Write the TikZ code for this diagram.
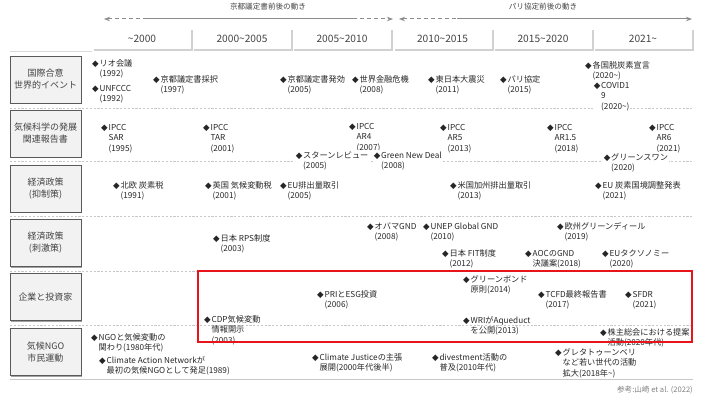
\documentclass[tikz,border=0pt]{standalone}
\usepackage{fontspec}
\setmainfont{Noto Sans CJK JP}
\newfontfamily\dejavu{DejaVu Sans}
\usetikzlibrary{arrows.meta,shadows}
\definecolor{txt}{HTML}{262626}
\definecolor{hdr}{HTML}{444444}
\definecolor{divc}{HTML}{C8C8C8}
\definecolor{arrc}{HTML}{8C8C8C}
\definecolor{lblfill}{HTML}{F2F2F2}
\definecolor{lbldraw}{HTML}{5A5A5A}
\definecolor{redbox}{HTML}{E8141B}
\newcommand\tld{\textasciitilde}
\newcommand\ev[1]{{\dejavu\fontsize{8.6}{9}\selectfont ◆}\hspace{0.8pt}\begin{tabular}[t]{@{}l@{}}#1\end{tabular}}
\begin{document}
\begin{tikzpicture}[x=1pt,y=-1pt,
  evt/.style={anchor=base west, inner sep=0pt, text=txt,
    font=\fontsize{8.2}{10.6}\selectfont},
  evw/.style={evt, fill=white, inner sep=0.6pt},
  lbl/.style={draw=lbldraw, fill=lblfill, line width=0.8pt, text=hdr,
    minimum width=71pt, minimum height=47pt, align=center, inner sep=1pt,
    font=\fontsize{9}{12}\selectfont,
    drop shadow={shadow xshift=1.3pt, shadow yshift=-1.3pt, fill=black!45, opacity=0.8}},
  hcell/.style={fill=white, draw=none, minimum width=98pt, minimum height=21pt,
    inner sep=0pt, text=hdr, font=\fontsize{10.2}{12}\selectfont},
  toplbl/.style={text=hdr, inner sep=0pt, font=\fontsize{7.6}{9}\selectfont},
  divl/.style={draw=divc, line width=0.8pt, dash pattern=on 2.2pt off 1.6pt},
  arrl/.style={draw=arrc, line width=1pt},
  arrd/.style={draw=arrc, line width=1pt, dash pattern=on 4pt off 3pt},
]
\useasboundingbox (0,0) rectangle (705,396);

% ---- top arrows ----
\node[toplbl] (kyoto) at (268,7) {京都議定書前後の動き};
\node[toplbl] (paris) at (543,7) {パリ協定前後の動き};
\coordinate (k1) at (104,19);
\coordinate (k2) at (147,19);
\coordinate (k3) at (353,19);
\coordinate (k4) at (393,19);
\coordinate (p1) at (399,19);
\coordinate (p2) at (457,19);
\coordinate (p3) at (692,19);
\draw[arrd, {Stealth[length=6pt,width=4.5pt]}-] (k1) -- (k2);
\draw[arrl] (k2) -- (k3);
\draw[arrd, -{Stealth[length=6pt,width=4.5pt]}] (k3) -- (k4);
\draw[arrd, {Stealth[length=6pt,width=4.5pt]}-] (p1) -- (p2);
\draw[arrl, -{Stealth[length=6pt,width=4.5pt]}] (p2) -- (p3);

% ---- header cells ----
\foreach \i/\x/\t in {0/142/{\tld2000},1/242/{2000\tld2005},2/342/{2005\tld2010},
                      3/442.5/{2010\tld2015},4/543/{2015\tld2020},5/643/{2021\tld}}{
  \fill[black!18] (\x-48,30.5) rectangle (\x+51,51);
  \node[hcell] (h\i) at (\x,39) {\t};
}
\draw[black!15, line width=0.8pt] (10,51.5) -- (92,51.5);

% ---- row dividers ----
\coordinate (dl1) at (10,108); \coordinate (dr1) at (693,108);
\coordinate (dl2) at (10,161); \coordinate (dr2) at (693,161);
\coordinate (dl3) at (10,216); \coordinate (dr3) at (693,216);
\coordinate (dl4) at (10,271); \coordinate (dr4) at (693,271);
\coordinate (dl5) at (10,325); \coordinate (dr5) at (693,325);
\coordinate (dl6) at (10,379); \coordinate (dr6) at (693,379);
\draw[divl] (dl1) -- (dr1);
\draw[divl] (dl2) -- (dr2);
\draw[divl] (dl3) -- (dr3);
\draw[divl] (dl4) -- (dr4);
\draw[divl] (dl5) -- (dr5);
\draw[draw=divc, line width=0.9pt] (dl6) -- (dr6);

% ---- row labels ----
\node[lbl] (r1) at (45.5,79.5) {国際合意\\世界的イベント};
\node[lbl] (r2) at (45.5,133.5) {気候科学の発展\\関連報告書};
\node[lbl] (r3) at (45.5,188.5) {経済政策\\(抑制策)};
\node[lbl] (r4) at (45.5,243) {経済政策\\(刺激策)};
\node[lbl] (r5) at (45.5,297) {企業と投資家};
\node[lbl] (r6) at (45.5,352) {気候NGO\\市民運動};

% ---- row 1 ----
\node[evt] (a1) at (92,66.2) {\ev{リオ会議\\(1992)}};
\node[evt] (a2) at (92,91.2) {\ev{UNFCCC\\(1992)}};
\node[evt] (a3) at (153,82.2) {\ev{京都議定書採択\\(1997)}};
\node[evt] (a4) at (280,82.2) {\ev{京都議定書発効\\(2005)}};
\node[evt] (a5) at (352,82.2) {\ev{世界金融危機\\(2008)}};
\node[evt] (a6) at (428,82.2) {\ev{東日本大震災\\(2011)}};
\node[evt] (a7) at (500,82.2) {\ev{パリ協定\\(2015)}};
\node[evt] (a8) at (585,68.2) {\ev{各国脱炭素宣言\\(2020\tld)}};
\node[evw] (a9) at (593,88.2) {\ev{COVID1\\9\\(2020\tld)}};

% ---- row 2 ----
\node[evt] (b1) at (101,130.2) {\ev{IPCC\\SAR\\(1995)}};
\node[evt] (b2) at (203,130.2) {\ev{IPCC\\TAR\\(2001)}};
\node[evt] (b3) at (349,129.2) {\ev{IPCC\\AR4\\(2007)}};
\node[evt] (b6) at (440,130.2) {\ev{IPCC\\AR5\\(2013)}};
\node[evt] (b7) at (547,130.2) {\ev{IPCC\\AR1.5\\(2018)}};
\node[evt] (b8) at (649,130.2) {\ev{IPCC\\AR6\\(2021)}};
\node[evw] (b4) at (295,158.2) {\ev{スターンレビュー\\(2005)}};
\node[evw] (b5) at (373,158.2) {\ev{Green New Deal\\(2008)}};
\node[evw] (b9) at (603,160.2) {\ev{グリーンスワン\\(2020)}};

% ---- row 3 ----
\node[evt] (c1) at (113,188.2) {\ev{北欧 炭素税\\(1991)}};
\node[evt] (c2) at (205,188.2) {\ev{英国 気候変動税\\(2001)}};
\node[evt] (c3) at (280,188.2) {\ev{EU排出量取引\\(2005)}};
\node[evt] (c4) at (450,188.2) {\ev{米国加州排出量取引\\(2013)}};
\node[evt] (c5) at (595,188.2) {\ev{EU 炭素国境調整発表\\(2021)}};

% ---- row 4 ----
\node[evt] (d1) at (213,241.2) {\ev{日本 RPS制度\\(2003)}};
\node[evt] (d2) at (367,229.2) {\ev{オバマGND\\(2008)}};
\node[evt] (d3) at (423,229.2) {\ev{UNEP Global GND\\(2010)}};
\node[evt] (d4) at (557,229.2) {\ev{欧州グリーンディール\\(2019)}};
\node[evt] (d5) at (442,256.2) {\ev{日本 FIT制度\\(2012)}};
\node[evt] (d6) at (525,256.2) {\ev{AOCのGND\\決議案(2018)}};
\node[evt] (d7) at (602,256.2) {\ev{EUタクソノミー\\(2020)}};

% ---- row 5 ----
\node[evt] (e1) at (463,282.2) {\ev{グリーンボンド\\原則(2014)}};
\node[evt] (e2) at (317,297.2) {\ev{PRIとESG投資\\(2006)}};
\node[evt] (e3) at (538,297.2) {\ev{TCFD最終報告書\\(2017)}};
\node[evt] (e4) at (625,297.2) {\ev{SFDR\\(2021)}};
\node[evt] (e5) at (204,322.2) {\ev{CDP気候変動\\情報開示\\(2003)}};
\node[evt] (e6) at (463,323.2) {\ev{WRIがAqueduct\\を公開(2013)}};
\node[evt] (e7) at (600,335.2) {\ev{株主総会における提案\\活動(2020年代)}};

% ---- row 6 ----
\node[evt] (f1) at (91,340.2) {\ev{NGOと気候変動の\\関わり(1980年代)}};
\node[evt] (f2) at (99,363.2) {\ev{Climate Action Networkが\\最初の気候NGOとして発足(1989)}};
\node[evt] (f3) at (312,360.2) {\ev{Climate Justiceの主張\\展開(2000年代後半)}};
\node[evt] (f4) at (432,360.2) {\ev{divestment活動の\\普及(2010年代)}};
\node[evt] (f5) at (555,355.2) {\ev{グレタトゥーンベリ\\など若い世代の活動\\拡大(2018年\tld)}};

% ---- highlight box ----
\draw[redbox, line width=2pt] (198,271) rectangle (692,342);

% ---- footer ----
\node[anchor=east, inner sep=0pt, text=black!50, font=\fontsize{7.6}{9}\selectfont] (src) at (693,390) {参考:山崎 et al. (2022)};
\end{tikzpicture}
\end{document}
